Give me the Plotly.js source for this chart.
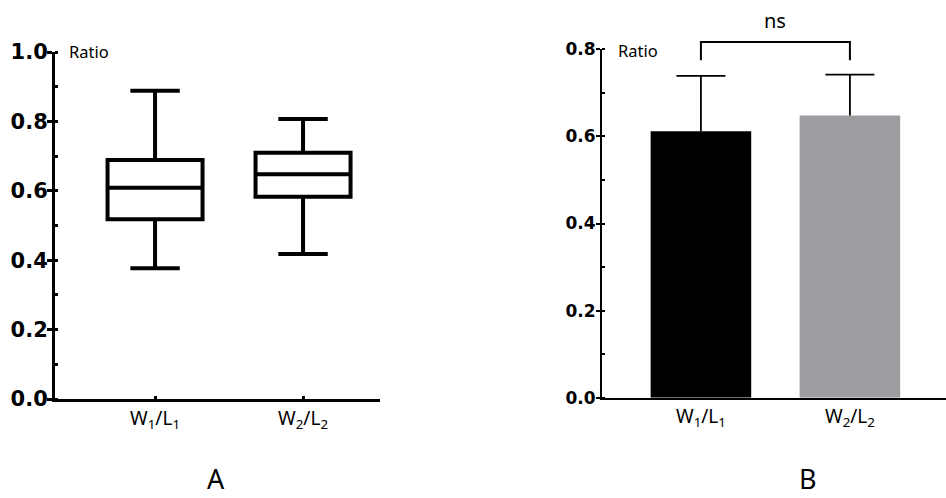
<!DOCTYPE html>
<html><head><meta charset="utf-8">
<script src="https://cdn.plot.ly/plotly-3.0.1.min.js"></script>
<style>html,body{margin:0;padding:0;background:#fff}</style>
</head><body><div id="chart" style="width:946px;height:498px"></div>
<script>
// ---- data ----
const categories = ['W<sub>1</sub>/L<sub>1</sub>', 'W<sub>2</sub>/L<sub>2</sub>'];
// Panel A: box plot summary
const boxLower  = [0.377, 0.418];
const boxQ1     = [0.518, 0.583];
const boxMedian = [0.609, 0.648];
const boxQ3     = [0.689, 0.710];
const boxUpper  = [0.888, 0.807];
// Panel B: mean + SD
const barMean = [0.612, 0.648];
const barSD   = [0.127, 0.094];
const barColors = ['#000000', '#9d9da1'];
const sigLabel = 'ns';

// ---- layout helpers ----
const W = 946, H = 498;
const y1Dom = [(H-399)/H, (H-52)/H];
const y2Dom = [(H-397.7)/H, (H-49.3)/H];
const y2Max = 0.8;
const bracketTop = 0.817, bracketLeg = 0.775;

const capTops = barMean.map((m,i)=>m+barSD[i]);

const traces = [
  {
    type:'box', x: categories, q1: boxQ1, median: boxMedian, q3: boxQ3,
    lowerfence: boxLower, upperfence: boxUpper,
    boxpoints:false, width:0.642, whiskerwidth:0.52,
    line:{color:'#000', width:4}, fillcolor:'#fff',
    xaxis:'x', yaxis:'y', showlegend:false, hoverinfo:'skip'
  },
  {
    type:'bar', x: categories, y: barMean,
    width:0.675, marker:{color:barColors, line:{width:0}},
    error_y:{type:'data', symmetric:false, array:barSD, arrayminus:[0,0],
             width:0, thickness:1.8, color:'#000'},
    xaxis:'x2', yaxis:'y2', showlegend:false, hoverinfo:'skip'
  },
  {
    type:'scatter', mode:'markers', x: categories, y: capTops,
    marker:{size:1, opacity:0},
    error_y:{type:'data', array:[0,0], width:24.5, thickness:1.8, color:'#000'},
    xaxis:'x2', yaxis:'y2', showlegend:false, hoverinfo:'skip'
  }
];

const tickFontL = {family:'DejaVu Sans', size:21, color:'#000', weight:'bold'};
const tickFontR = {family:'DejaVu Sans', size:17, color:'#000', weight:'bold'};
const catFont = {family:'Noto Sans, Open Sans', size:19, color:'#000'};
const txtFont = (s)=>({family:'Noto Sans, Open Sans', size:s, color:'#000'});

const layout = {
  width:W, height:H, margin:{l:0,r:0,t:0,b:0,pad:0},
  paper_bgcolor:'#fff', plot_bgcolor:'#fff', showlegend:false,
  xaxis:{domain:[55/W, 380/W], range:[-0.676, 1.52], type:'category',
    showline:true, linecolor:'#000', linewidth:3, showgrid:false, zeroline:false,
    ticks:'inside', ticklen:3, tickwidth:3, tickcolor:'#000', tickfont:catFont, anchor:'y'},
  yaxis:{domain:y1Dom, range:[0,1.0], dtick:0.2, tickformat:'.1f',
    showline:true, linecolor:'#000', linewidth:3, showgrid:false, zeroline:false,
    ticks:'outside', ticklen:5, tickwidth:3, tickcolor:'#000', tickfont:tickFontL,
    ticklabelstandoff:-5,
    minor:{dtick:0.1, ticks:'inside', ticklen:3, tickwidth:3, tickcolor:'#000', showgrid:false},
    anchor:'x'},
  xaxis2:{domain:[602/W, 1], range:[-0.664, 1.645], type:'category',
    showline:true, linecolor:'#000', linewidth:2.5, showgrid:false, zeroline:false,
    ticks:'', tickfont:catFont, anchor:'y2'},
  yaxis2:{domain:y2Dom, range:[0,y2Max], dtick:0.2, tickformat:'.1f',
    showline:true, linecolor:'#000', linewidth:2, showgrid:false, zeroline:false,
    ticks:'outside', ticklen:4, tickwidth:2, tickcolor:'#000', tickfont:tickFontR,
    ticklabelstandoff:-3,
    minor:{dtick:0.1, ticks:'inside', ticklen:3, tickwidth:2, tickcolor:'#000', showgrid:false},
    anchor:'x2'},
  shapes:[
    {type:'path', xref:'x2', yref:'y2 domain',
     path:'M 0,' + (bracketLeg/y2Max) + ' L 0,' + (bracketTop/y2Max) +
          ' L 1,' + (bracketTop/y2Max) + ' L 1,' + (bracketLeg/y2Max),
     line:{color:'#000', width:2}}
  ],
  annotations:[
    {text:'Ratio', xref:'paper', yref:'paper', x:67/W, y:(H-52)/H, xanchor:'left', yanchor:'middle',
     showarrow:false, font:txtFont(16.5)},
    {text:'Ratio', xref:'paper', yref:'paper', x:616/W, y:(H-50)/H, xanchor:'left', yanchor:'middle',
     showarrow:false, font:txtFont(16.5)},
    {text:sigLabel, xref:'paper', yref:'paper', x:775/W, y:(H-21)/H, xanchor:'center', yanchor:'middle',
     showarrow:false, font:txtFont(20)},
    {text:'A', xref:'paper', yref:'paper', x:216/W, y:0, xanchor:'center', yanchor:'bottom',
     borderpad:0, showarrow:false, font:txtFont(27)},
    {text:'B', xref:'paper', yref:'paper', x:808/W, y:0, xanchor:'center', yanchor:'bottom',
     borderpad:0, showarrow:false, font:txtFont(27)}
  ]
};

Plotly.newPlot('chart', traces, layout, {staticPlot:true, displayModeBar:false});
</script>
</body></html>
